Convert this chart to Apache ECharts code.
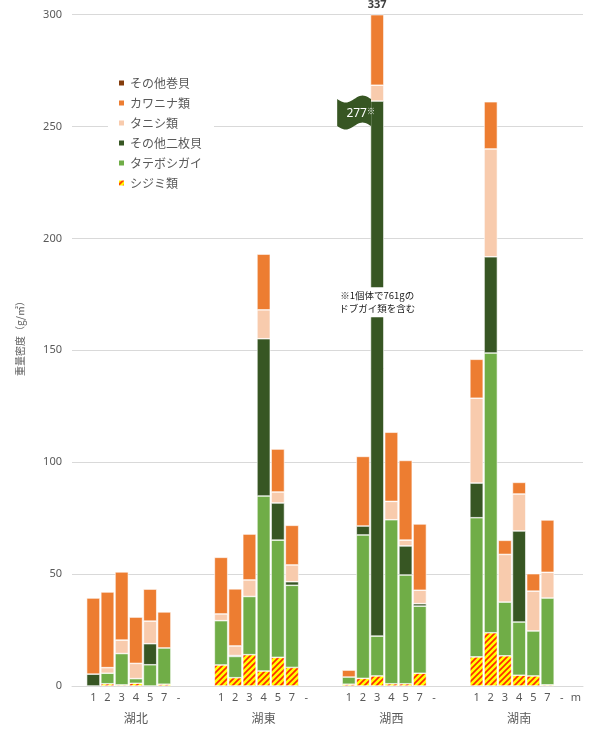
<!DOCTYPE html>
<html><head><meta charset="utf-8">
<script src="https://cdn.jsdelivr.net/npm/echarts@6/dist/echarts.min.js"></script>
<style>html,body{margin:0;padding:0;background:#fff}#c{width:591px;height:729px}</style>
</head><body><div id="c"></div>
<script>
const groups = ['湖北', '湖東', '湖西', '湖南'];
const depthLabels = ['1', '2', '3', '4', '5', '7', '-'];
const seriesNames = ['シジミ類', 'タテボシガイ', 'その他二枚貝', 'タニシ類', 'カワニナ類', 'その他巻貝'];
// values per group for depths 1,2,3,4,5,7 ("-" has no data)
const shijimi    = [[0,1,0.5,1.2,0,0.8],[9.4,3.7,14,6.7,12.8,8.3],[0.8,3.4,4.5,1,1,5.7],[13,23.8,13.5,4.8,4.5,0.5]];
const tatebo     = [[0,4.7,14,2.1,9.5,16.2],[19.8,9.5,26,78.2,52.4,36.7],[3.2,64.1,17.8,73.3,48.6,30],[62.2,125,24,23.8,20.1,38.8]];
const otherBiv   = [[5.3,0,0,0,9.4,0],[0,0.4,0,70.3,16.6,1.6],[0,4,239.1,0,13,1.1],[15.5,43,0,40.7,0,0]];
const tanishi    = [[0,2.5,6,6.8,10.1,0],[3,4.3,7.4,12.9,4.9,7.5],[0,0,7.1,8.2,2.6,6],[37.9,48.2,21.3,16.5,17.8,11.5]];
const kawanina   = [[34,33.8,30.5,20.7,14.3,16.1],[25.3,25.5,20.5,24.9,19.2,17.7],[3.1,31.1,31.5,30.9,35.6,29.6],[17.4,21.1,6.3,5.2,7.8,23.4]];
const otherSnail = [[0,0,0,0,0,0],[0,0,0,0,0,0],[0,0,0,0,0,0],[0,0,0,0,0,0]];
const yTicks = [0, 50, 100, 150, 200, 250, 300];
const unitLabel = 'm';
const truncatedTotal = '337';
const truncatedBivalve = '277';
const noteText = '※1個体で761gの\nドブガイ類を含む';
const yTitle = '重量密度（g/㎡）';

// build slots
const slotIds = [], tickLabels = [], groupLabels = [], slotRef = [];
function addSlot(t, g, ref){ slotIds.push('s'+slotIds.length); tickLabels.push(t); groupLabels.push(g); slotRef.push(ref); }
addSlot('', '', null);
groups.forEach((g, gi) => {
  depthLabels.forEach((d, di) => addSlot(d, di === 3 ? g : '', di < 6 ? [gi, di] : null));
  if (gi < groups.length - 1) { addSlot('', '', null); addSlot('', '', null); }
});
addSlot(unitLabel, '', null);

function build(arr){ return slotRef.map(r => { if (!r) return null; const v = arr[r[0]][r[1]]; return v ? v : null; }); }
const dataSets = [shijimi, tatebo, otherBiv, tanishi, kawanina, otherSnail];

// stripe pattern for シジミ類
const pc = document.createElement('canvas'); pc.width = 6; pc.height = 6;
const ctx = pc.getContext('2d');
ctx.fillStyle = '#FFFF00'; ctx.fillRect(0,0,6,6);
ctx.strokeStyle = '#FF2A00'; ctx.lineWidth = 1.7;
ctx.beginPath(); ctx.moveTo(0,6); ctx.lineTo(6,0); ctx.moveTo(-3,3); ctx.lineTo(3,-3); ctx.moveTo(3,9); ctx.lineTo(9,3); ctx.stroke();

const colors = [{image: pc, repeat: 'repeat'}, '#70AD47', '#375623', '#F8CBAD', '#ED7D31', '#843C0C'];
const FONT = "'Noto Sans', 'Noto Sans CJK JP', sans-serif";
const JP = "'Noto Sans CJK JP', sans-serif";
const chart = echarts.init(document.getElementById('c'), null, {renderer: 'canvas'});

const option = {
  animation: false,
  textStyle: {fontFamily: FONT},
  grid: {left: 72, right: 8, top: 14.7, bottom: 43, containLabel: false},
  legend: {
    orient: 'vertical', left: 108, top: 73, padding: [4, 12, 4, 9],
    backgroundColor: '#fff', itemWidth: 7, itemHeight: 7, itemGap: 8,
    data: seriesNames.slice().reverse(),
    textStyle: {fontSize: 12, color: '#595959', lineHeight: 12, fontFamily: JP},
    icon: 'rect'
  },
  xAxis: [
    {type: 'category', data: slotIds, gridIndex: 0,
     axisLine: {show: true, lineStyle: {color: '#D9D9D9'}}, axisTick: {show: false},
     axisLabel: {interval: 0, color: '#595959', fontSize: 11, margin: 6, formatter: (v, i) => tickLabels[i]}},
    {type: 'category', data: slotIds, gridIndex: 0, position: 'bottom', offset: 20,
     axisLine: {show: false}, axisTick: {show: false},
     axisLabel: {interval: 0, color: '#595959', fontSize: 12, margin: 6, fontFamily: JP, formatter: (v, i) => groupLabels[i]}}
  ],
  yAxis: {type: 'value', min: yTicks[0], max: yTicks[yTicks.length-1], interval: 50,
    axisLine: {show: false}, axisTick: {show: false},
    axisLabel: {color: '#595959', fontSize: 11, margin: 10},
    splitLine: {lineStyle: {color: '#D9D9D9'}}},
  series: seriesNames.map((n, i) => ({
    name: n, type: 'bar', stack: 'all', xAxisIndex: 0, barCategoryGap: '6%',
    data: build(dataSets[i]),
    itemStyle: {color: colors[i], borderColor: '#fff', borderWidth: 0.6},
    emphasis: {disabled: true}
  }))
};
chart.setOption(option);

// annotations around the truncated 湖西-3 bar
const gi = 2, di = 2;
const slotIndex = slotRef.findIndex(r => r && r[0] === gi && r[1] === di);
const P = (i, v) => chart.convertToPixel({xAxisIndex: 0, yAxisIndex: 0}, [i, v]);
const top300 = P(slotIndex, yTicks[yTicks.length-1]);
const cx = top300[0];
const slotW = P(slotIndex + 1, 0)[0] - cx;
const hw = slotW * 0.94 / 2;
const bivTopVal = shijimi[gi][di] + tatebo[gi][di] + otherBiv[gi][di];
const bivTopY = P(slotIndex, bivTopVal)[1];
const x0 = cx - 40, xb = cx - hw + 0.5, y0 = bivTopY - 2, y1 = y0 + 27;
const flagPts = [];
const N = 24;
for (let k = 0; k <= N; k++) { const t = k / N; flagPts.push([x0 + (xb - x0) * t, y0 + 3.5 * Math.sin(2 * Math.PI * t)]); }
for (let k = N; k >= 0; k--) { const t = k / N; flagPts.push([x0 + (xb - x0) * t, y1 + 3.5 * Math.sin(2 * Math.PI * t)]); }
const noteY = P(slotIndex, 171.5)[1];

chart.setOption({graphic: [
  {type: 'text', x: 20, y: 336, rotation: Math.PI / 2,
   style: {text: yTitle, fontSize: 10, fill: '#595959', fontFamily: JP, align: 'center', verticalAlign: 'middle'}},
  {type: 'text', z: 10, style: {text: truncatedTotal, x: cx, y: top300[1] - 10, align: 'center', verticalAlign: 'middle', fontSize: 11, fontWeight: 'bold', fill: '#404040', fontFamily: FONT}},
  {type: 'polygon', z: 10, shape: {points: flagPts}, style: {fill: '#375623'}},
  {type: 'text', z: 11, style: {text: '{a|' + truncatedBivalve + '}{b|※}', x: cx - 16.5, y: y0 + 15, align: 'center', verticalAlign: 'middle',
    rich: {a: {fontSize: 12, fill: '#fff', fontFamily: FONT}, b: {fontSize: 8, fill: '#fff', verticalAlign: 'top', padding: [0,0,6,0], fontFamily: JP}}}},
  {type: 'text', z: 11, style: {text: noteText, x: cx, y: noteY, align: 'center', verticalAlign: 'middle', fontSize: 9.5, lineHeight: 13, fill: '#1a1a1a',
    fontFamily: JP, backgroundColor: '#fff', padding: [2, 1, 2, 1]}}
]});
</script></body></html>
